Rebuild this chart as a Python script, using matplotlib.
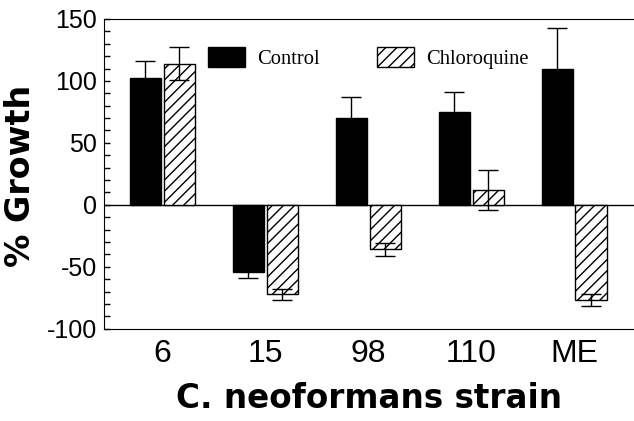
import matplotlib
matplotlib.use('Agg')
import matplotlib.pyplot as plt
import numpy as np

plt.rcParams['axes.unicode_minus'] = False

strains = ['6', '15', '98', '110', 'ME']
control = [102, -54, 70, 75, 110]
control_err = [14, 5, 17, 16, 33]
chloroquine = [114, -72, -36, 12, -77]
chloroquine_err = [13, 4.5, 5, 16, 5]

x = np.arange(len(strains))
width = 0.31
offset = 0.165

fig = plt.figure(figsize=(6.34, 4.21), dpi=100)
ax = fig.add_axes([0.164, 0.219, 0.836, 0.736])

err_style = dict(ecolor='black', elinewidth=1, capsize=7.5, capthick=1)
ax.bar(x - offset, control, width, color='black', edgecolor='black', linewidth=1,
       yerr=control_err, error_kw=err_style, label='Control', zorder=2)
ax.bar(x + offset, chloroquine, width, color='white', edgecolor='black', linewidth=1,
       hatch='///', yerr=chloroquine_err, error_kw=err_style, label='Chloroquine', zorder=2)

ax.axhline(0, color='black', linewidth=1, zorder=1)

ax.set_xlim(-0.568, 4.578)
ax.set_ylim(-100, 150)
ax.set_yticks(np.arange(-100, 151, 50))
ax.set_yticks(np.arange(-100, 151, 10), minor=True)
ax.set_xticks(x)
ax.set_xticklabels(strains, fontfamily='Liberation Sans', fontsize=23)
for lbl in ax.get_yticklabels():
    lbl.set_fontfamily('Liberation Sans')
    lbl.set_fontsize(18)
ax.tick_params(axis='y', which='both', direction='in', length=4, width=1, pad=5)
ax.tick_params(axis='x', length=0, pad=7)
ax.spines['right'].set_visible(False)

ax.set_ylabel('% Growth', fontfamily='DejaVu Sans', fontweight='bold', fontsize=24)
ax.yaxis.set_label_coords(-0.126, 0.494)
ax.set_xlabel('C. neoformans strain', fontfamily='DejaVu Sans', fontweight='bold',
              fontsize=23.5, labelpad=10)

ax.legend(loc='upper left', bbox_to_anchor=(0.196, 0.91), ncol=2, frameon=False,
          prop={'family': 'Liberation Serif', 'size': 14.8},
          handlelength=1.8, handleheight=1.12, handletextpad=0.58,
          columnspacing=2.8, borderpad=0, borderaxespad=0)

fig.savefig('out.png', dpi=100)
